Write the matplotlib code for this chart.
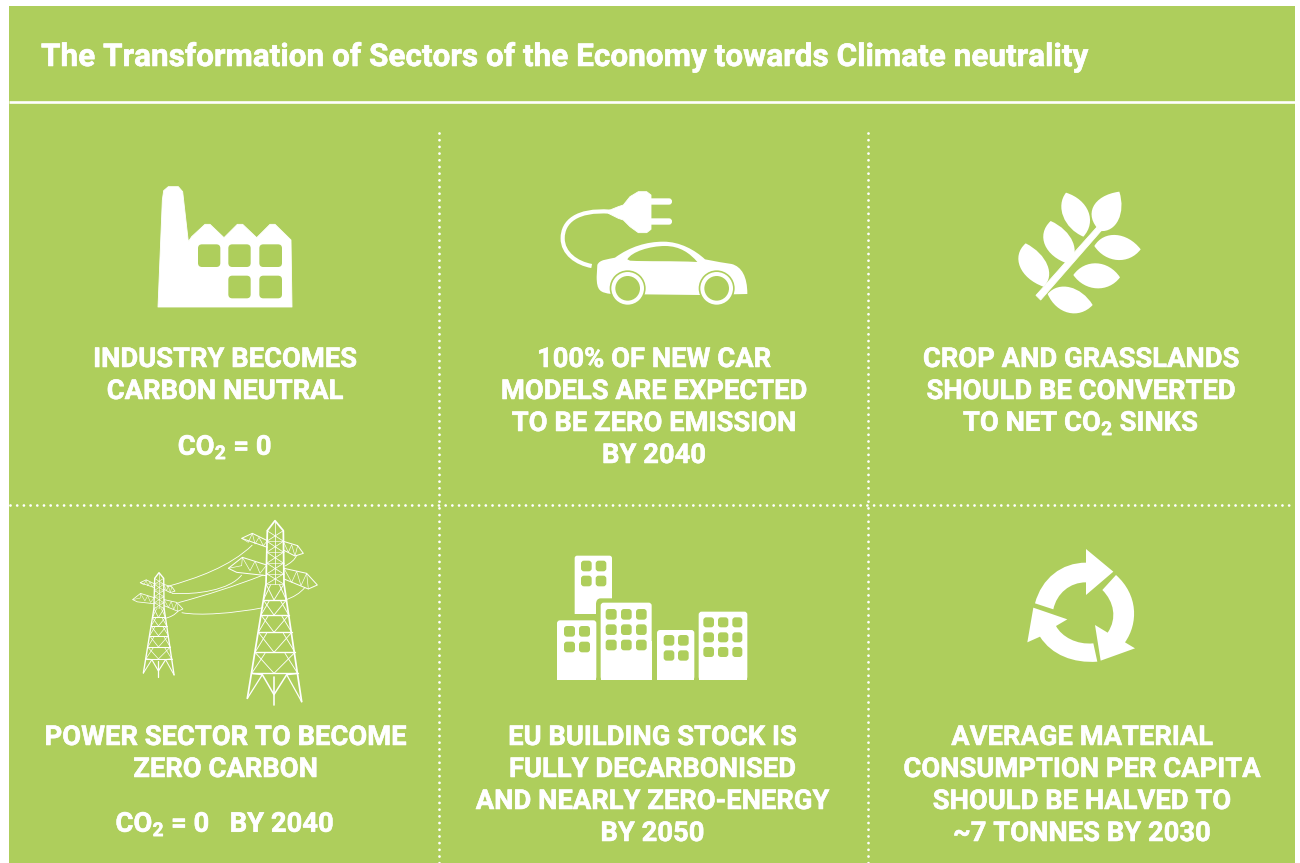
import numpy as np
import matplotlib
matplotlib.use("Agg")
import matplotlib.pyplot as plt
import matplotlib.patheffects as pe
from matplotlib.patches import FancyBboxPatch, PathPatch, Circle, Rectangle
from matplotlib.path import Path

# ---------- CONTENT ----------

title = "The Transformation of Sectors of the Economy towards Climate neutrality"

labels_top_left = ["INDUSTRY BECOMES", "CARBON NEUTRAL"]
labels_top_mid = ["100% OF NEW CAR", "MODELS ARE EXPECTED", "TO BE ZERO EMISSION", "BY 2040"]
labels_top_right = ["CROP AND GRASSLANDS", "SHOULD BE CONVERTED", "TO NET CO$_{2}$ SINKS"]
labels_bottom_left = ["POWER SECTOR TO BECOME", "ZERO CARBON"]
labels_bottom_mid = ["EU BUILDING STOCK IS", "FULLY DECARBONISED", "AND NEARLY ZERO-ENERGY", "BY 2050"]
labels_bottom_right = ["AVERAGE MATERIAL", "CONSUMPTION PER CAPITA", "SHOULD BE HALVED TO", "~7 TONNES BY 2030"]
co2_top = "CO$_{2}$ = 0"
co2_bottom = "CO$_{2}$ = 0   BY 2040"

GREEN = "#AECE5C"
WHITE = "#FFFFFF"
RIGHT = 1295

plt.rcParams["mathtext.default"] = "regular"

fig = plt.figure(figsize=(13, 8.63), dpi=100, facecolor=WHITE)
ax = fig.add_axes([0, 0, 1, 1])
ax.set_xlim(0, 1300)
ax.set_ylim(863, 0)
ax.axis("off")


# ---------- HELPERS ----------

def shift(points, x0, y0):
    pts = np.array(points, dtype=float)
    return np.column_stack([x0 + pts[:, 0] / 3, y0 + pts[:, 1] / 3])


def polygon(points, x0, y0, color=WHITE, edge=0.6, z=3):
    pts = shift(points, x0, y0)
    verts = np.vstack([pts, pts[0]])
    codes = [Path.MOVETO] + [Path.LINETO] * (len(pts) - 1) + [Path.CLOSEPOLY]
    ax.add_patch(PathPatch(Path(verts, codes), fc=color, ec=color, lw=edge, joinstyle="round", zorder=z))


def curved(segments, x0, y0, color=WHITE, z=3, fill=True, lw=0.0):
    # segments: start point, then 1 point = line, 3 points = cubic
    verts = [segments[0]]
    codes = [Path.MOVETO]
    for seg in segments[1:]:
        if len(seg) == 3:
            verts.extend(seg)
            codes.extend([Path.CURVE4] * 3)
        else:
            verts.append(seg[0])
            codes.append(Path.LINETO)
    verts = shift(verts, x0, y0)
    if fill:
        verts = np.vstack([verts, verts[0]])
        codes.append(Path.CLOSEPOLY)
        ax.add_patch(PathPatch(Path(verts, codes), fc=color, ec=color, lw=lw, joinstyle="round", zorder=z))
    else:
        ax.add_patch(PathPatch(Path(verts, codes), fc="none", ec=color, lw=lw, capstyle="butt", zorder=z))


def round_box(x1, y1, x2, y2, x0, y0, r, color, z=4):
    a, b = shift([(x1, y1), (x2, y2)], x0, y0)
    ax.add_patch(FancyBboxPatch((a[0] + r, a[1] + r), b[0] - a[0] - 2 * r, b[1] - a[1] - 2 * r,
                                boxstyle=f"round,pad={r},rounding_size={r}", fc=color, ec="none", zorder=z))


def building(x1, y1, x2, y2, x0, y0):
    round_box(x1, y1, x2, y2, x0, y0, 3, WHITE, z=3)
    a, b = shift([(x1, (y1 + y2) / 2), (x2, y2)], x0, y0)
    ax.add_patch(Rectangle(a, b[0] - a[0], b[1] - a[1], fc=WHITE, ec="none", zorder=3))


def windows(xs, ys, x0, y0, r=3):
    for x1, x2 in xs:
        for y1, y2 in ys:
            round_box(x1, y1, x2, y2, x0, y0, r, GREEN)


def leaf(a, b, p, q, x0, y0):
    a, b, p, q = [np.array(v, dtype=float) for v in (a, b, p, q)]
    mid = (a + b) / 2
    up = (p - mid) * 4 / 3
    dn = (q - mid) * 4 / 3
    along = b - a
    curved([a, (a + along * 0.25 + up, a + along * 0.75 + up, b),
            (a + along * 0.75 + dn, a + along * 0.25 + dn, a)], x0, y0)


def pylon(ax_, ox, oy, k, lw):
    def seg(points, w=lw):
        pts = np.array(points, dtype=float) * k / 3
        ax_.plot(ox + pts[:, 0], oy + pts[:, 1], color=WHITE, lw=w, solid_capstyle="round",
                 solid_joinstyle="round", zorder=3)

    # main outline
    seg([(-83, 533), (-27, 190), (-23, 30), (0, 0), (25, 30), (27, 190), (80, 543)], lw * 1.4)
    seg([(0, 0), (0, 190)], lw * 0.6)
    seg([(-3, 468), (-3, 553)], lw * 1.3)
    # cross bracing up the neck
    levels = [30, 62, 95, 128, 160, 190]
    for top, bot in zip(levels[:-1], levels[1:]):
        seg([(-24, top), (26, bot)], lw * 0.6)
        seg([(25, top), (-25, bot)], lw * 0.6)
        seg([(-24, bot), (26, bot)], lw * 0.5)
    # bands and inverted V bracing down the legs
    bands = [(190, -27, 27), (238, -35, 34), (283, -42, 41), (335, -50, 50), (395, -60, 60), (458, -70, 68)]
    for (y1, l1, r1), (y2, l2, r2) in zip(bands[:-1], bands[1:]):
        seg([(l2, y2), (r2, y2)], lw * 1.1)
        seg([(l1 * 0.5, y1 + 3), (l2, y2)], lw * 0.7)
        seg([(r1 * 0.5, y1 + 3), (r2, y2)], lw * 0.7)
        seg([(l1, y1), (-3, y2)], lw * 0.7)
        seg([(r1, y1), (-3, y2)], lw * 0.7)
    seg([(-70, 458), (-38, 462), (-3, 522), (35, 462), (68, 458)], lw * 1.2)
    seg([(-83, 533), (-38, 462)], lw)
    seg([(80, 543), (35, 462)], lw)
    # upper cross arm
    seg([(-23, 60), (-68, 38), (-100, 53), (-23, 80)], lw * 0.8)
    seg([(-100, 53), (-80, 65), (-68, 38), (-60, 70), (-48, 50), (-35, 75), (-23, 60)], lw * 0.5)
    seg([(25, 62), (68, 75), (85, 98), (60, 106), (25, 88)], lw * 0.8)
    seg([(25, 62), (40, 95), (50, 72), (60, 106), (68, 75)], lw * 0.5)
    # lower cross arm
    seg([(-25, 133), (-98, 110), (-140, 143), (-115, 155), (-25, 165)], lw * 0.8)
    seg([(-140, 143), (-100, 135), (-98, 110), (-75, 150), (-60, 122), (-45, 158), (-25, 133)], lw * 0.5)
    seg([(27, 143), (95, 158), (127, 193), (100, 205), (27, 175)], lw * 0.8)
    seg([(27, 143), (50, 185), (65, 152), (78, 195), (95, 158), (100, 205)], lw * 0.5)


# ---------- BACKGROUND ----------

ax.add_patch(Rectangle((8.5, 6), RIGHT - 8.5, 863 - 6, fc=GREEN, ec="none", zorder=1))
ax.plot([8.5, RIGHT], [102.5, 102.5], color=WHITE, lw=1.9, solid_capstyle="butt", zorder=2)
for x in (439, 868):
    ax.plot([x, x], [133, 863], color=WHITE, lw=2.0, linestyle=(0, (0.01, 2.4)), dash_capstyle="round", zorder=2)
ax.plot([10, RIGHT], [505, 505], color=WHITE, lw=2.0, linestyle=(0, (0.01, 2.4)), dash_capstyle="round", zorder=2)

# ---------- TEXT ----------

ax.text(41, 57, title, color=WHITE, fontsize=22.7, fontweight="bold", ha="left", va="center",
        family=["Liberation Sans Narrow", "Roboto"], zorder=5,
        path_effects=[pe.withStroke(linewidth=0.4, foreground=WHITE)])


def label_block(lines, cx, y_first, step=32):
    for i, line in enumerate(lines):
        ax.text(cx, y_first + i * step, line, color=WHITE, fontsize=19.7, fontweight="bold",
                ha="center", va="baseline", family="Roboto", zorder=5,
                path_effects=[pe.withStroke(linewidth=0.4, foreground=WHITE)])


label_block(labels_top_left, 225, 367)
label_block(labels_top_mid, 654, 367)
label_block(labels_top_right, 1081, 367)
label_block(labels_bottom_left, 225.5, 745)
label_block(labels_bottom_mid, 652.5, 745)
label_block(labels_bottom_right, 1082, 745)
label_block([co2_top], 225, 455)
label_block([co2_bottom], 225, 832)

# ---------- FACTORY ----------

fx, fy = 120, 170
polygon([(114, 411), (127, 90), (131, 62), (145, 50), (175, 50), (188, 65), (205, 215), (215, 200),
         (255, 163), (270, 163), (312, 203), (352, 163), (368, 163), (410, 203), (450, 163), (465, 163),
         (513, 210), (516, 411)], fx, fy)
windows([(234, 301), (325, 392), (418, 486)], [(223, 291)], fx, fy, r=4)
windows([(325, 392), (418, 486)], [(317, 385)], fx, fy, r=4)

# ---------- CAR ----------

cx, cy = 540, 170
curved([(210, 125), ((110, 118), (68, 155), (68, 205)), ((68, 250), (110, 280), (155, 288))],
       cx, cy, fill=False, lw=3.0)
polygon([(205, 122), (235, 110), (250, 105), (270, 80), (295, 65), (320, 65), (333, 75), (333, 178),
         (320, 188), (295, 188), (270, 170), (250, 150), (235, 145), (205, 130)], cx, cy)
round_box(325, 85, 396, 104, cx, cy, 3, WHITE, z=3)
round_box(325, 145, 396, 164, cx, cy, 3, WHITE, z=3)
curved([(172, 285), ((178, 268), (205, 268), (225, 263)), ((270, 230), (320, 215), (370, 215)),
        ((420, 215), (465, 240), (495, 268)), ((530, 275), (550, 278), (575, 282)),
        ((605, 290), (622, 320), (622, 372)), [(480, 375)], [(215, 372)], ((180, 368), (170, 362), (170, 320))],
       cx, cy)
curved([(262, 268), ((275, 245), (330, 228), (375, 228)), ((420, 228), (450, 250), (472, 276)), ((400, 272), (320, 275), (270, 272))],
       cx, cy, color=GREEN, z=4)
for wx in (263, 530):
    centre = shift([(wx, 355)], cx, cy)[0]
    ax.add_patch(Circle(centre, 54 / 3, fc=GREEN, ec="none", zorder=4))
    ax.add_patch(Circle(centre, 49 / 3, fc=WHITE, ec="none", zorder=5))
    ax.add_patch(Circle(centre, 37 / 3, fc=GREEN, ec="none", zorder=6))

# ---------- BRANCH ----------

lx, ly = 1000, 170
polygon([(108, 376), (290, 172), (303, 183), (122, 390)], lx, ly)
leaf((198, 68), (250, 200), (190, 140), (265, 125), lx, ly)
leaf((358, 65), (300, 183), (280, 110), (355, 150), lx, ly)
leaf((152, 153), (207, 282), (135, 225), (218, 215), lx, ly)
leaf((77, 220), (130, 350), (60, 290), (142, 285), lx, ly)
leaf((283, 228), (422, 238), (348, 195), (352, 270), lx, ly)
leaf((220, 315), (360, 322), (290, 280), (290, 355), lx, ly)
leaf((143, 372), (278, 405), (210, 352), (205, 428), lx, ly)

# ---------- PYLONS ----------

px, py = 120, 510
pylon(ax, px + 465 / 3, py + 32 / 3, 1.0, 0.9)
pylon(ax, px + 117 / 3, py + 188 / 3, 0.565, 0.7)
wires = [
    [(397, 105), ((330, 170), (230, 205), (140, 230))],
    [(365, 195), ((330, 240), (230, 255), (155, 250))],
    [(430, 195), ((340, 230), (260, 255), (175, 278))],
    [(430, 293), ((340, 310), (240, 318), (185, 308))],
    [(135, 325), ((150, 322), (165, 315), (175, 302))],
    [(555, 232), ((540, 250), (520, 262), (495, 270))],
    [(495, 168), ((510, 160), (525, 150), (530, 135))],
]
for wire in wires:
    curved(wire, px, py, fill=False, lw=0.6)

# ---------- BUILDINGS ----------

bx, by = 540, 545
curved([(104, 207), [(104, 40)], ((104, 34), (108, 32), (112, 32)), [(208, 32)], ((214, 32), (216, 36), (216, 40)),
        [(216, 160)], [(182, 160)], ((172, 160), (168, 168), (168, 178)), [(168, 207)]], bx, by)
windows([(123, 155), (167, 199)], [(47, 79), (92, 124)], bx, by)
building(51, 226, 169, 405, bx, by)
windows([(72, 105), (117, 150)], [(243, 275), (290, 322)], bx, by)
building(182, 173, 335, 405, bx, by)
windows([(197, 230), (243, 275), (288, 320)], [(192, 224), (238, 270), (284, 316)], bx, by)
building(351, 255, 463, 405, bx, by)
windows([(371, 403), (414, 446)], [(270, 302), (316, 347)], bx, by)
building(476, 200, 622, 405, bx, by)
windows([(490, 522), (534, 565), (577, 607)], [(217, 247), (262, 292), (306, 336)], bx, by)

# ---------- RECYCLE ----------

rx, ry = 1010, 540
curved([(75, 190), ((95, 115), (155, 68), (228, 68)), [(228, 27)], [(310, 95)], [(228, 165)], [(228, 127)],
        ((180, 127), (140, 160), (130, 208))], rx, ry)
curved([(318, 105), ((385, 165), (385, 250), (345, 307)), [(375, 325)], [(272, 362)], [(255, 255)], [(293, 278)],
        ((322, 235), (312, 185), (277, 150))], rx, ry)
curved([(262, 365), ((190, 370), (125, 345), (90, 290)), [(52, 307)], [(70, 203)], [(172, 238)], [(138, 258)],
        ((155, 290), (200, 315), (250, 310))], rx, ry)

fig.savefig("out.png", dpi=100)
plt.close(fig)
